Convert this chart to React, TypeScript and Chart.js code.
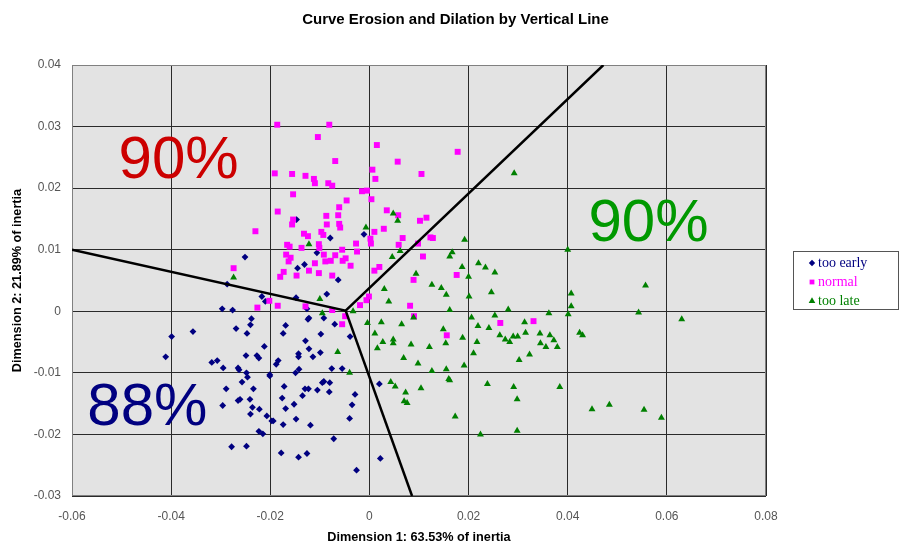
import React, { useEffect, useRef } from "react";
import { Chart, registerables } from "chart.js";

Chart.register(...registerables);

const chartTitle = "Curve Erosion and Dilation by Vertical Line";
const xAxisTitle = "Dimension 1: 63.53% of inertia";
const yAxisTitle = "Dimension 2: 21.89% of inertia";
const seriesNames = ["too early", "normal", "too late"];
const seriesColors = ["#000080", "#ff00ff", "#008000"];

const xMin = -0.06, xMax = 0.08, xStep = 0.02;
const yMin = -0.03, yMax = 0.04, yStep = 0.01;

// [x, y] pairs
const tooEarly: [number, number][] = [
  [-0.0147, 0.0149], [-0.0079, 0.0119], [-0.0011, 0.0125], [-0.0106, 0.0095], [-0.0145, 0.0070],
  [-0.0131, 0.0076], [-0.0063, 0.0051], [-0.0251, 0.0088], [-0.0287, 0.0044], [-0.0217, 0.0024],
  [-0.0210, 0.0016], [-0.0148, 0.0022], [-0.0086, 0.0028], [-0.0297, 0.0004], [-0.0276, 0.0002],
  [-0.0126, 0.0004], [-0.0238, -0.0012], [-0.0240, -0.0022], [-0.0269, -0.0028], [-0.0247, -0.0036],
  [-0.0399, -0.0041], [-0.0356, -0.0033], [-0.0169, -0.0023], [-0.0174, -0.0036], [-0.0122, -0.0011],
  [-0.0124, -0.0013], [-0.0092, -0.0011], [-0.0070, -0.0021], [-0.0098, -0.0037], [-0.0039, -0.0041],
  [-0.0129, -0.0048], [-0.0122, -0.0061], [-0.0099, -0.0067], [-0.0114, -0.0074], [-0.0143, -0.0069],
  [-0.0143, -0.0074], [-0.0212, -0.0057], [-0.0249, -0.0072], [-0.0227, -0.0072], [-0.0223, -0.0076],
  [-0.0411, -0.0074], [-0.0318, -0.0083], [-0.0307, -0.0080], [-0.0295, -0.0092], [-0.0265, -0.0092],
  [-0.0263, -0.0095], [-0.0248, -0.0100], [-0.0246, -0.0107], [-0.0257, -0.0115], [-0.0201, -0.0103],
  [-0.0201, -0.0105], [-0.0184, -0.0080], [-0.0188, -0.0086], [-0.0149, -0.0100], [-0.0142, -0.0094],
  [-0.0076, -0.0093], [-0.0055, -0.0093], [-0.0172, -0.0122], [-0.0234, -0.0126], [-0.0289, -0.0126],
  [-0.0296, -0.0153], [-0.0265, -0.0145], [-0.0261, -0.0143], [-0.0241, -0.0143], [-0.0236, -0.0156],
  [-0.0240, -0.0167], [-0.0222, -0.0159], [-0.0207, -0.0170], [-0.0197, -0.0178], [-0.0194, -0.0178],
  [-0.0176, -0.0141], [-0.0169, -0.0158], [-0.0152, -0.0151], [-0.0135, -0.0137], [-0.0130, -0.0126],
  [-0.0123, -0.0126], [-0.0105, -0.0128], [-0.0095, -0.0116], [-0.0092, -0.0114], [-0.0080, -0.0116],
  [-0.0081, -0.0131], [-0.0148, -0.0175], [-0.0174, -0.0184], [-0.0119, -0.0185], [-0.0029, -0.0135],
  [-0.0035, -0.0152], [-0.0040, -0.0174], [-0.0072, -0.0207], [-0.0223, -0.0195], [-0.0215, -0.0199],
  [-0.0278, -0.0220], [-0.0248, -0.0219], [-0.0178, -0.0230], [-0.0143, -0.0237], [-0.0126, -0.0231],
  [-0.0026, -0.0258], [0.0022, -0.0239], [0.0020, -0.0118],
];

const normal: [number, number][] = [
  [-0.0186, 0.0303], [-0.0081, 0.0303], [-0.0104, 0.0283], [0.0015, 0.0270], [-0.0069, 0.0244],
  [0.0057, 0.0243], [-0.0191, 0.0224], [-0.0156, 0.0223], [-0.0129, 0.0220], [-0.0112, 0.0215],
  [-0.0110, 0.0208], [-0.0083, 0.0208], [-0.0075, 0.0204], [0.0006, 0.0230], [0.0012, 0.0215],
  [0.0105, 0.0223], [-0.0015, 0.0195], [-0.0005, 0.0196], [-0.0154, 0.0190], [0.0004, 0.0182],
  [-0.0046, 0.0180], [-0.0185, 0.0162], [-0.0061, 0.0169], [-0.0063, 0.0156], [-0.0087, 0.0155],
  [0.0035, 0.0164], [0.0058, 0.0156], [0.0102, 0.0147], [0.0115, 0.0152], [-0.0154, 0.0149],
  [-0.0156, 0.0141], [-0.0086, 0.0141], [-0.0061, 0.0142], [-0.0059, 0.0136], [-0.0230, 0.0130],
  [-0.0132, 0.0126], [-0.0124, 0.0122], [-0.0097, 0.0129], [-0.0093, 0.0124], [0.0010, 0.0129],
  [0.0029, 0.0134], [0.0002, 0.0118], [0.0003, 0.0110], [0.0067, 0.0119], [0.0059, 0.0108],
  [-0.0027, 0.0110], [-0.0025, 0.0097], [-0.0102, 0.0109], [-0.0101, 0.0103], [-0.0166, 0.0108],
  [-0.0161, 0.0105], [-0.0137, 0.0103], [-0.0055, 0.0100], [-0.0069, 0.0091], [-0.0092, 0.0092],
  [-0.0168, 0.0092], [-0.0159, 0.0087], [-0.0163, 0.0081], [-0.0048, 0.0086], [-0.0054, 0.0082],
  [-0.0078, 0.0082], [-0.0089, 0.0081], [-0.0110, 0.0078], [-0.0038, 0.0074], [-0.0122, 0.0066],
  [-0.0102, 0.0062], [-0.0147, 0.0058], [-0.0173, 0.0064], [-0.0180, 0.0056], [-0.0075, 0.0058],
  [-0.0274, 0.0070], [0.0108, 0.0089], [0.0098, 0.0110], [0.0123, 0.0120], [0.0128, 0.0119],
  [0.0020, 0.0072], [0.0010, 0.0066], [0.0089, 0.0051], [-0.0001, 0.0024], [-0.0006, 0.0018],
  [-0.0019, 0.0010], [0.0082, 0.0009], [-0.0202, 0.0017], [-0.0185, 0.0009], [-0.0226, 0.0006],
  [-0.0129, 0.0008], [0.0176, 0.0059], [0.0090, -0.0008], [0.0156, -0.0039], [0.0264, -0.0019],
  [0.0331, -0.0016], [-0.0055, -0.0021], [-0.0049, -0.0008], [-0.0075, 0.0002], [0.0178, 0.0259],
];

const tooLate: [number, number][] = [
  [0.0048, 0.0159], [0.0057, 0.0147], [-0.0007, 0.0136], [-0.0122, 0.0109], [0.0062, 0.0098],
  [0.0046, 0.0088], [0.0094, 0.0061], [0.0126, 0.0043], [0.0145, 0.0038], [0.0155, 0.0027],
  [0.0162, 0.0089], [0.0030, 0.0036], [0.0039, 0.0016], [-0.0274, 0.0055], [-0.0100, 0.0020],
  [-0.0033, 0.0000], [0.0292, 0.0224], [0.0192, 0.0116], [0.0167, 0.0096], [0.0220, 0.0078],
  [0.0234, 0.0071], [0.0253, 0.0063], [0.0187, 0.0072], [0.0200, 0.0056], [0.0246, 0.0031],
  [0.0201, 0.0024], [0.0162, 0.0002], [0.0280, 0.0003], [0.0362, -0.0003], [0.0206, -0.0010],
  [0.0253, -0.0007], [0.0219, -0.0024], [0.0241, -0.0027], [-0.0095, -0.0003], [-0.0004, -0.0019],
  [0.0024, -0.0018], [0.0065, -0.0021], [0.0089, -0.0010], [0.0149, -0.0029], [0.0011, -0.0036],
  [0.0027, -0.0050], [0.0048, -0.0046], [0.0048, -0.0052], [0.0016, -0.0060], [0.0084, -0.0054],
  [0.0121, -0.0058], [0.0154, -0.0052], [0.0188, -0.0043], [0.0217, -0.0050], [0.0210, -0.0068],
  [0.0263, -0.0039], [0.0274, -0.0046], [0.0283, -0.0050], [0.0290, -0.0041], [0.0299, -0.0041],
  [0.0315, -0.0035], [0.0344, -0.0036], [0.0345, -0.0052], [0.0364, -0.0039], [0.0372, -0.0047],
  [0.0356, -0.0058], [0.0379, -0.0058], [0.0323, -0.0070], [0.0302, -0.0079], [-0.0064, -0.0066],
  [-0.0040, -0.0100], [0.0069, -0.0076], [0.0098, -0.0085], [0.0126, -0.0097], [0.0155, -0.0094],
  [0.0191, -0.0088], [0.0160, -0.0110], [0.0162, -0.0112], [0.0043, -0.0115], [0.0052, -0.0122],
  [0.0073, -0.0132], [0.0070, -0.0146], [0.0076, -0.0149], [0.0104, -0.0125], [0.0238, -0.0118],
  [0.0291, -0.0123], [0.0298, -0.0143], [0.0173, -0.0171], [0.0224, -0.0200], [0.0298, -0.0194],
  [0.0384, -0.0123], [0.0400, 0.0100], [0.0557, 0.0042], [0.0407, 0.0029], [0.0407, 0.0008],
  [0.0401, -0.0005], [0.0543, -0.0002], [0.0630, -0.0013], [0.0313, -0.0018], [0.0424, -0.0035],
  [0.0430, -0.0039], [0.0449, -0.0159], [0.0484, -0.0152], [0.0554, -0.0160], [0.0589, -0.0173],
];

// boundary lines between the three regions
const boundaryUpper: [number, number][] = [[-0.06, 0.0100], [-0.0048, 0.0001], [0.0472, 0.04]];
const boundaryLower: [number, number][] = [[-0.0048, 0.0001], [0.0086, -0.03]];

// region labels: [text, x, y, colour]
const regionLabels: [string, number, number, string][] = [
  ["90%", -0.0385, 0.0250, "#cc0000"],
  ["90%", 0.0563, 0.0147, "#009900"],
  ["88%", -0.0448, -0.0152, "#000080"],
];

const toPts = (a: [number, number][]) => a.map(([x, y]) => ({ x, y }));
const fmt = (v: number) => {
  const n = Math.round(v * 100) / 100;
  return n === 0 ? "0" : String(n);
};

const SANS = 'Arial, "Liberation Sans", sans-serif';
const SERIF = '"Times New Roman", "Liberation Serif", serif';

const drawMarker = (ctx: CanvasRenderingContext2D, kind: number, x: number, y: number, r: number) => {
  ctx.beginPath();
  if (kind === 0) {
    ctx.moveTo(x - r, y); ctx.lineTo(x, y - r); ctx.lineTo(x + r, y); ctx.lineTo(x, y + r);
  } else if (kind === 1) {
    ctx.rect(x - r * 0.75, y - r * 0.75, r * 1.5, r * 1.5);
  } else {
    ctx.moveTo(x, y - r); ctx.lineTo(x + r * 0.87, y + r * 0.5); ctx.lineTo(x - r * 0.87, y + r * 0.5);
  }
  ctx.closePath();
  ctx.fill();
};

const decorPlugin = {
  id: "decor",
  beforeDraw(chart: any) {
    const { ctx, chartArea: a } = chart;
    ctx.save();
    ctx.fillStyle = "#e3e3e3";
    ctx.fillRect(a.left, a.top, a.right - a.left, a.bottom - a.top);
    ctx.restore();
  },
  beforeDatasetsDraw(chart: any) {
    const { ctx, chartArea: a, scales } = chart;
    ctx.save();
    ctx.strokeStyle = "#808080";
    ctx.lineWidth = 1;
    ctx.strokeRect(Math.round(a.left) + 0.5, Math.round(a.top) + 0.5, Math.round(a.right - a.left) - 1, Math.round(a.bottom - a.top) - 1);
    ctx.font = `60px ${SANS}`;
    ctx.textAlign = "center";
    ctx.textBaseline = "middle";
    for (const [t, x, y, c] of regionLabels) {
      ctx.fillStyle = c;
      ctx.fillText(t, scales.x.getPixelForValue(x), scales.y.getPixelForValue(y) + 4);
    }
    ctx.restore();
  },
  afterDraw(chart: any) {
    const { ctx } = chart;
    ctx.save();
    // title
    ctx.fillStyle = "#000";
    ctx.font = `bold 15px ${SANS}`;
    ctx.textAlign = "center";
    ctx.textBaseline = "alphabetic";
    ctx.fillText(chartTitle, 455.5, 23.5);
    // legend
    const lx = 793, ly = 251, lw = 105, lh = 58;
    ctx.fillStyle = "#ffffff";
    ctx.fillRect(lx, ly, lw, lh);
    ctx.strokeStyle = "#555";
    ctx.lineWidth = 1;
    ctx.strokeRect(lx + 0.5, ly + 0.5, lw, lh);
    ctx.font = `14px ${SERIF}`;
    ctx.textAlign = "left";
    ctx.textBaseline = "middle";
    seriesNames.forEach((name, i) => {
      const yy = ly + 12 + i * 19;
      ctx.fillStyle = seriesColors[i];
      drawMarker(ctx, i, 812, yy, i === 2 ? 3.8 : 3.2);
      ctx.fillText(name, 818, yy);
    });
    ctx.restore();
  },
};

export default function App() {
  const ref = useRef<HTMLCanvasElement | null>(null);

  useEffect(() => {
    if (!ref.current) return;
    const chart = new Chart(ref.current, {
      type: "scatter",
      data: {
        datasets: [
          {
            label: "boundary",
            data: toPts(boundaryUpper),
            showLine: true,
            borderColor: "#000",
            borderWidth: 2.5,
            pointRadius: 0,
            fill: false,
            order: 0,
          },
          {
            label: "boundary2",
            data: toPts(boundaryLower),
            showLine: true,
            borderColor: "#000",
            borderWidth: 2.5,
            pointRadius: 0,
            fill: false,
            order: 0,
          },
          {
            label: seriesNames[0],
            data: toPts(tooEarly),
            pointStyle: "rectRot",
            pointRadius: 3.4,
            backgroundColor: seriesColors[0],
            borderWidth: 0,
            order: 3,
          },
          {
            label: seriesNames[1],
            data: toPts(normal),
            pointStyle: "rect",
            pointRadius: 4.2,
            backgroundColor: seriesColors[1],
            borderWidth: 0,
            order: 2,
          },
          {
            label: seriesNames[2],
            data: toPts(tooLate),
            pointStyle: "triangle",
            pointRadius: 4,
            backgroundColor: seriesColors[2],
            borderWidth: 0,
            order: 1,
          },
        ],
      },
      options: {
        animation: false,
        responsive: false,
        maintainAspectRatio: false,
        layout: { padding: { top: 65, right: 144, left: 0, bottom: 0 } },
        plugins: {
          legend: { display: false },
          title: { display: false },
          tooltip: { enabled: false },
        },
        scales: {
          x: {
            type: "linear",
            min: xMin,
            max: xMax,
            afterFit: (s: any) => { s.height = 50; },
            ticks: {
              stepSize: xStep,
              callback: (v: any) => fmt(Number(v)),
              color: "#555",
              font: { family: SANS, size: 12 },
              padding: 13,
              maxRotation: 0,
            },
            grid: { color: "#2a2a2a", lineWidth: 1, drawTicks: false },
            border: { display: false },
            title: {
              display: true,
              text: xAxisTitle,
              color: "#000",
              font: { family: SANS, size: 12.7, weight: "bold" },
              padding: { top: 0, bottom: 1 },
            },
          },
          y: {
            type: "linear",
            min: yMin,
            max: yMax,
            afterFit: (s: any) => { s.width = 72; },
            ticks: {
              stepSize: yStep,
              callback: (v: any) => fmt(Number(v)),
              color: "#555",
              font: { family: SANS, size: 12 },
              padding: 11,
            },
            grid: { color: "#2a2a2a", lineWidth: 1, drawTicks: false },
            border: { display: false },
            title: {
              display: true,
              text: yAxisTitle,
              color: "#000",
              font: { family: SANS, size: 12.7, weight: "bold" },
              padding: { top: 10, bottom: 0 },
            },
          },
        },
      },
      plugins: [decorPlugin],
    });
    return () => chart.destroy();
  }, []);

  return (
    <div style={{ position: "absolute", left: 0, top: 0, width: 910, height: 546, background: "#fff" }}>
      <canvas ref={ref} width={910} height={546} style={{ display: "block" }} />
    </div>
  );
}
